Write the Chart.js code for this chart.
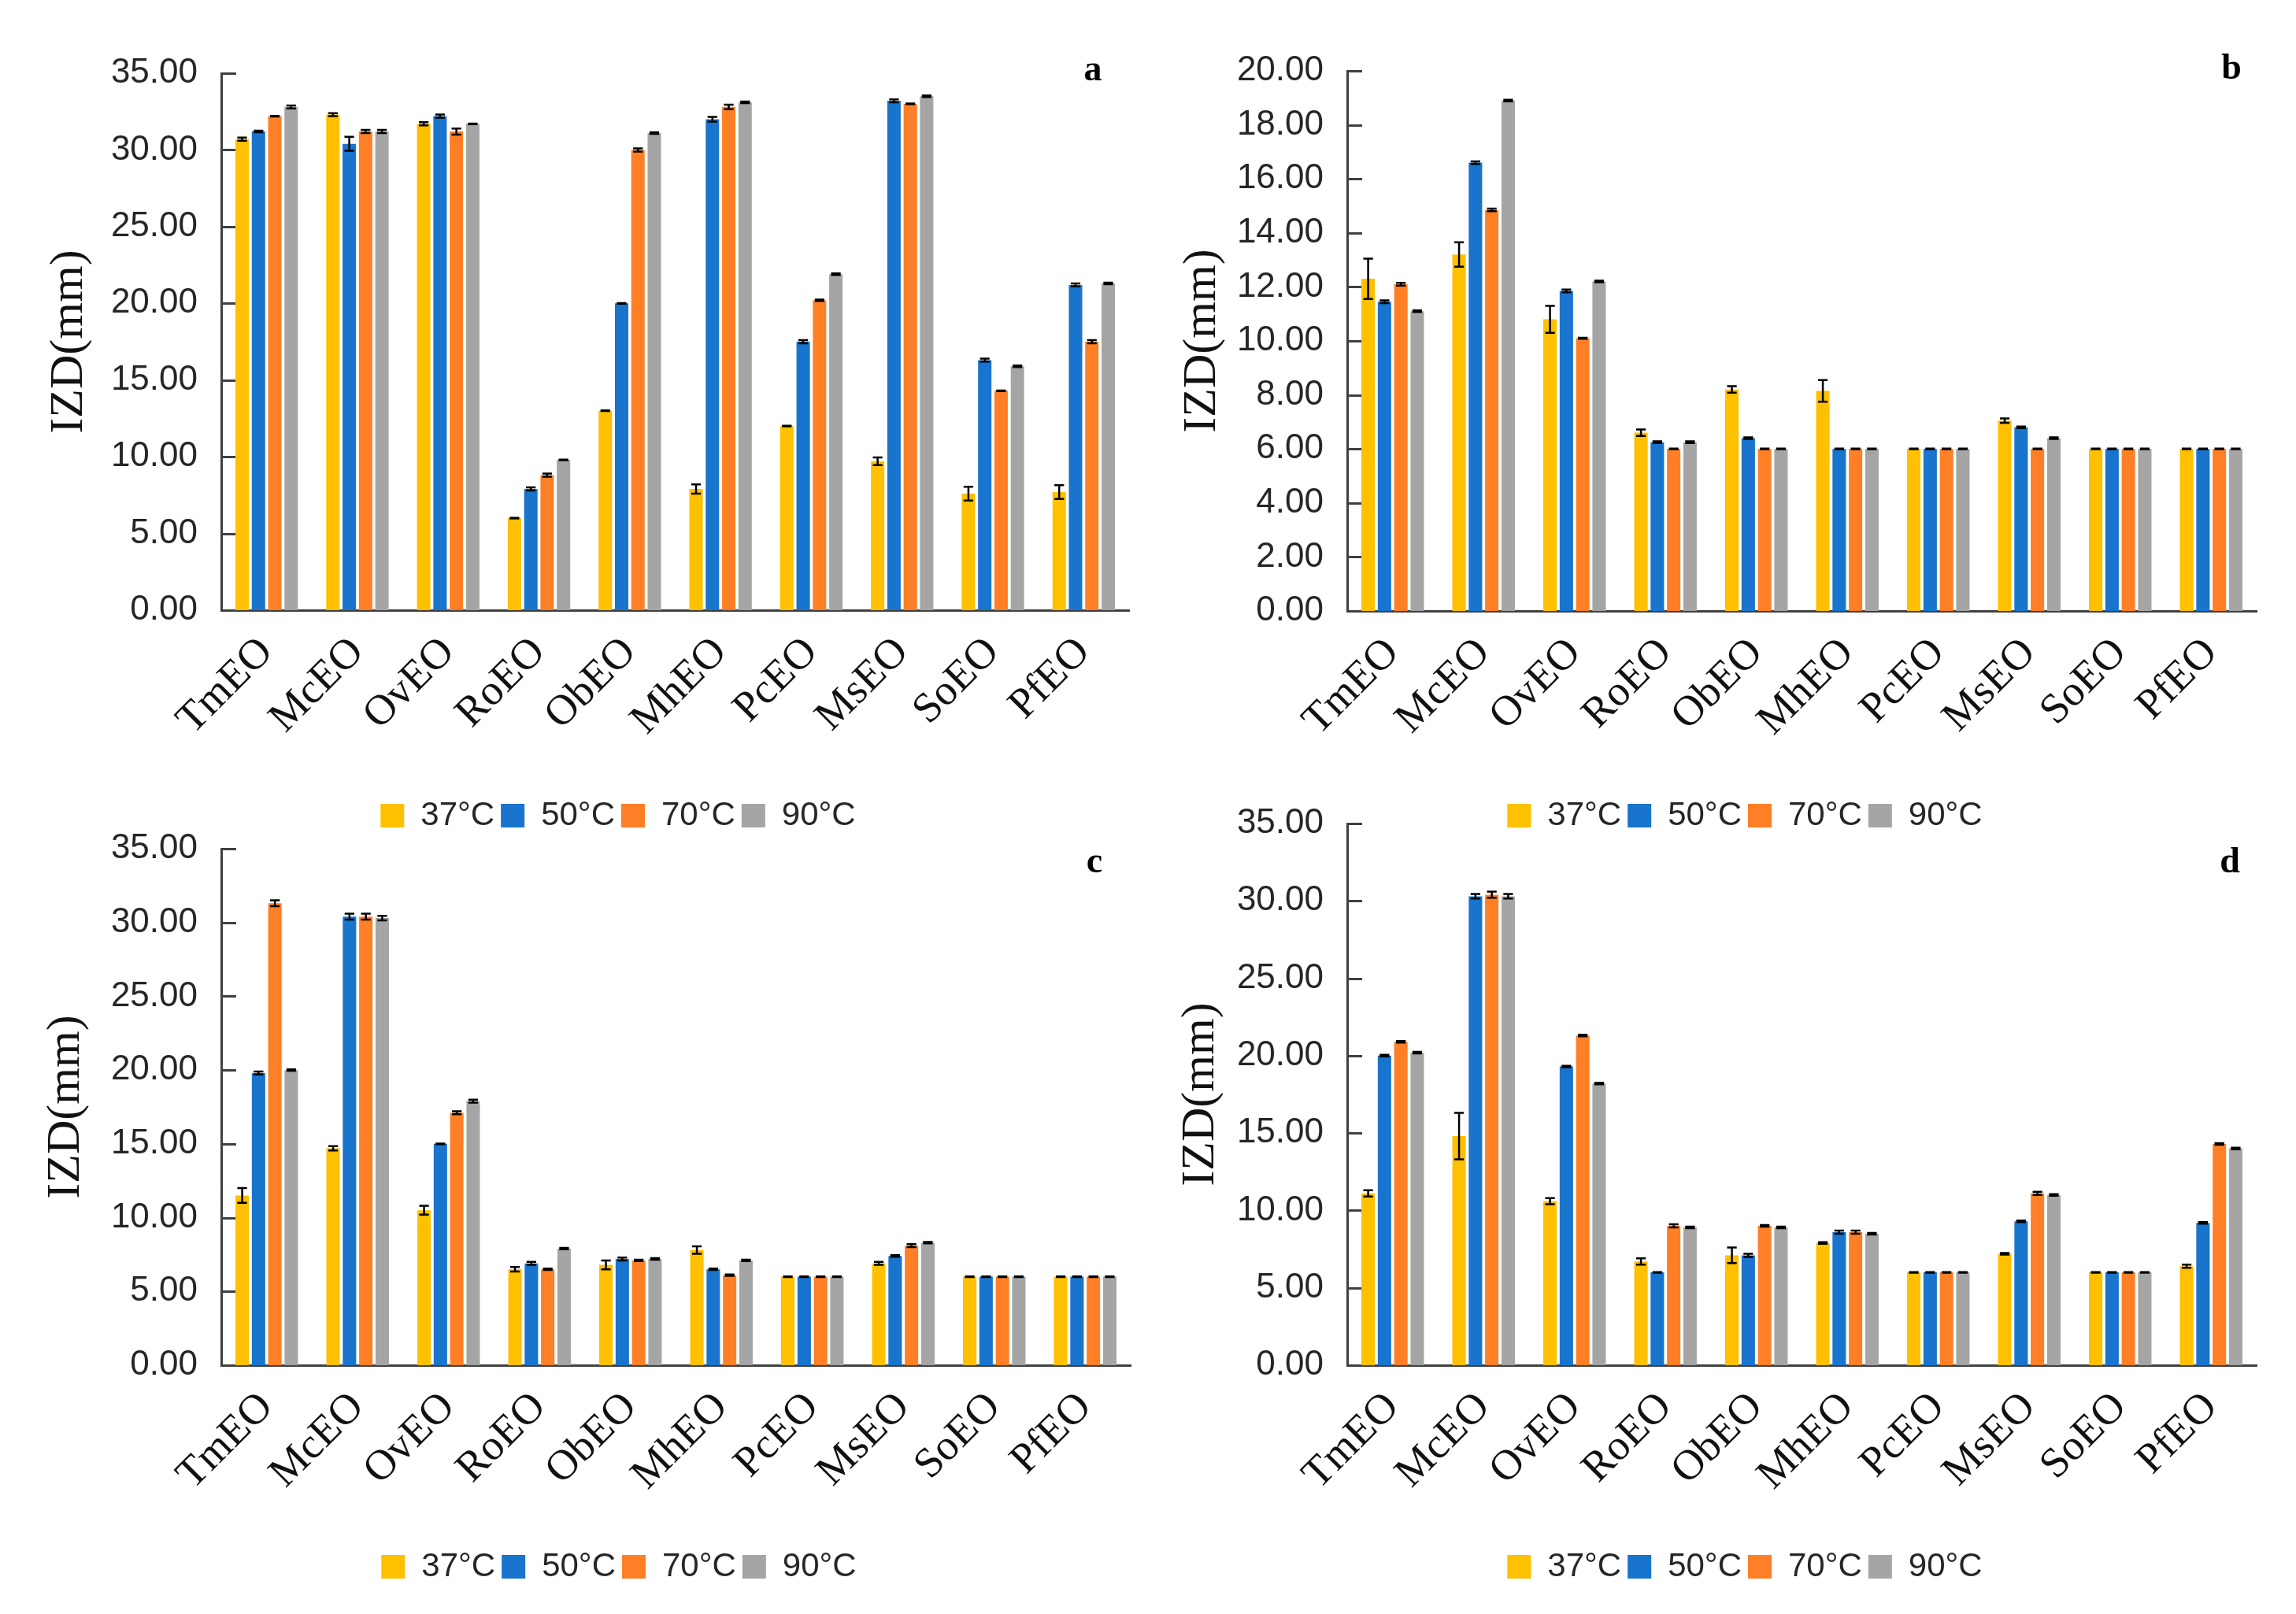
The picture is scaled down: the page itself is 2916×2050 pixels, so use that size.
<!DOCTYPE html>
<html>
<head>
<meta charset="utf-8">
<script src="https://cdn.jsdelivr.net/npm/chart.js@4.4.1/dist/chart.umd.min.js"></script>
<style>
    body { margin: 0; background: #fff; width: 2916px; height: 2050px; overflow: hidden; position: relative; }
    canvas { position: absolute; }
</style>
</head>
<body>
<canvas id="chartA" width="1458" height="1080" style="left:0px;top:0px"></canvas>
<canvas id="chartB" width="1458" height="1080" style="left:1458px;top:0px"></canvas>
<canvas id="chartC" width="1458" height="1050" style="left:0px;top:1000px"></canvas>
<canvas id="chartD" width="1458" height="1050" style="left:1458px;top:1000px"></canvas>
<script>
const categorias = ['TmEO', 'McEO', 'OvEO', 'RoEO', 'ObEO', 'MhEO', 'PcEO', 'MsEO', 'SoEO', 'PfEO'];
const temperaturas = ['37°C', '50°C', '70°C', '90°C'];
const cores = ['#FFC000', '#1874CD', '#FF7F27', '#A5A5A5'];

// painel a
const a37 = [30.7, 32.3, 31.7, 6.0, 13.0, 7.9, 12.0, 9.7, 7.6, 7.7];
const a50 = [31.2, 30.4, 32.2, 7.9, 20.0, 32.0, 17.5, 33.2, 16.3, 21.2];
const a70 = [32.2, 31.2, 31.2, 8.8, 30.0, 32.8, 20.2, 33.0, 14.3, 17.5];
const a90 = [32.8, 31.2, 31.7, 9.8, 31.1, 33.1, 21.9, 33.5, 15.9, 21.3];
const aErro37 = [0.1, 0.1, 0.1, 0.02, 0.02, 0.3, 0.02, 0.25, 0.45, 0.45];
const aErro50 = [0.05, 0.45, 0.1, 0.1, 0.02, 0.15, 0.1, 0.1, 0.1, 0.1];
const aErro70 = [0.02, 0.1, 0.2, 0.1, 0.1, 0.15, 0.05, 0.02, 0.02, 0.1];
const aErro90 = [0.1, 0.1, 0.02, 0.02, 0.05, 0.05, 0.05, 0.05, 0.05, 0.05];

// painel b
const b37 = [12.3, 13.2, 10.8, 6.6, 8.2, 8.15, 6.0, 7.05, 6.0, 6.0];
const b50 = [11.45, 16.6, 11.85, 6.25, 6.4, 6.0, 6.0, 6.8, 6.0, 6.0];
const b70 = [12.1, 14.85, 10.1, 6.0, 6.0, 6.0, 6.0, 6.0, 6.0, 6.0];
const b90 = [11.1, 18.9, 12.2, 6.25, 6.0, 6.0, 6.0, 6.4, 6.0, 6.0];
const bErro37 = [0.75, 0.45, 0.5, 0.12, 0.12, 0.4, 0.01, 0.08, 0.01, 0.01];
const bErro50 = [0.05, 0.05, 0.05, 0.03, 0.03, 0.01, 0.01, 0.03, 0.01, 0.01];
const bErro70 = [0.05, 0.05, 0.02, 0.01, 0.01, 0.01, 0.01, 0.01, 0.01, 0.01];
const bErro90 = [0.03, 0.03, 0.03, 0.03, 0.01, 0.01, 0.01, 0.03, 0.01, 0.01];

// painel c
const c37 = [11.5, 14.7, 10.5, 6.5, 6.8, 7.8, 6.0, 6.9, 6.0, 6.0];
const c50 = [19.8, 30.4, 15.0, 6.9, 7.2, 6.5, 6.0, 7.4, 6.0, 6.0];
const c70 = [31.3, 30.4, 17.1, 6.5, 7.1, 6.1, 6.0, 8.1, 6.0, 6.0];
const c90 = [20.0, 30.3, 17.9, 7.9, 7.2, 7.1, 6.0, 8.3, 6.0, 6.0];
const cErro37 = [0.5, 0.15, 0.3, 0.15, 0.3, 0.25, 0.02, 0.1, 0.02, 0.02];
const cErro50 = [0.1, 0.2, 0.02, 0.1, 0.1, 0.05, 0.02, 0.05, 0.02, 0.02];
const cErro70 = [0.2, 0.2, 0.1, 0.05, 0.05, 0.05, 0.02, 0.1, 0.02, 0.02];
const cErro90 = [0.05, 0.15, 0.1, 0.05, 0.05, 0.05, 0.02, 0.05, 0.02, 0.02];

// painel d
const d37 = [11.1, 14.8, 10.6, 6.7, 7.1, 7.9, 6.0, 7.2, 6.0, 6.4];
const d50 = [20.0, 30.3, 19.3, 6.0, 7.1, 8.6, 6.0, 9.3, 6.0, 9.2];
const d70 = [20.9, 30.4, 21.3, 9.0, 9.0, 8.6, 6.0, 11.1, 6.0, 14.3];
const d90 = [20.2, 30.3, 18.2, 8.9, 8.9, 8.5, 6.0, 11.0, 6.0, 14.0];
const dErro37 = [0.2, 1.5, 0.2, 0.2, 0.5, 0.05, 0.02, 0.05, 0.02, 0.1];
const dErro50 = [0.05, 0.15, 0.05, 0.02, 0.1, 0.1, 0.02, 0.05, 0.02, 0.05];
const dErro70 = [0.05, 0.2, 0.05, 0.1, 0.05, 0.1, 0.02, 0.1, 0.02, 0.05];
const dErro90 = [0.05, 0.15, 0.05, 0.05, 0.05, 0.05, 0.02, 0.05, 0.02, 0.05];

const FONTE_NUM = "'Liberation Sans', Arial, sans-serif";
const FONTE_SERIF = "'Liberation Serif', 'DejaVu Serif', serif";

// barras de erro desenhadas pela escala y
const barrasErro = {
    id: 'barrasErro',
    afterDatasetsDraw(chart) {
        const ctx = chart.ctx;
        const escalaY = chart.scales.y;
        ctx.save();
        ctx.strokeStyle = '#000';
        ctx.lineWidth = 2.5;
        chart.data.datasets.forEach((ds, i) => {
            chart.getDatasetMeta(i).data.forEach((barra, j) => {
                const v = ds.data[j];
                const e = ds.erro[j];
                const yTopo = escalaY.getPixelForValue(v + e);
                const yBase = escalaY.getPixelForValue(v - e);
                const meio = barra.width * 0.36;
                ctx.beginPath();
                ctx.moveTo(barra.x, yTopo);
                ctx.lineTo(barra.x, yBase);
                ctx.moveTo(barra.x - meio, yTopo);
                ctx.lineTo(barra.x + meio, yTopo);
                ctx.moveTo(barra.x - meio, yBase);
                ctx.lineTo(barra.x + meio, yBase);
                ctx.stroke();
            });
        });
        ctx.restore();
    }
};

// marcas do eixo y voltadas para dentro
const marcasInternas = {
    id: 'marcasInternas',
    beforeDatasetsDraw(chart) {
        const ctx = chart.ctx;
        const escalaY = chart.scales.y;
        ctx.save();
        ctx.strokeStyle = '#404040';
        ctx.lineWidth = 3;
        ctx.beginPath();
        escalaY.ticks.forEach(t => {
            const py = Math.round(escalaY.getPixelForValue(t.value)) + 0.5;
            ctx.moveTo(escalaY.right, py);
            ctx.lineTo(escalaY.right + 19, py);
        });
        ctx.stroke();
        ctx.restore();
    }
};

// letra do painel (a, b, c, d)
const letraPainel = {
    id: 'letraPainel',
    afterDraw(chart, args, opts) {
        const ctx = chart.ctx;
        ctx.save();
        ctx.font = 'bold 46px ' + FONTE_SERIF;
        ctx.fillStyle = '#000';
        ctx.textAlign = 'center';
        ctx.textBaseline = 'middle';
        ctx.fillText(opts.texto, opts.x, opts.y);
        ctx.restore();
    }
};

function criarGrafico(idCanvas, series, erros, cfg) {
    const datasets = temperaturas.map((t, i) => ({
        label: t,
        data: series[i],
        erro: erros[i],
        backgroundColor: cores[i],
        borderWidth: 0,
        categoryPercentage: 0.72,
        barPercentage: 0.82
    }));

    return new Chart(document.getElementById(idCanvas), {
        type: 'bar',
        data: { labels: categorias, datasets: datasets },
        options: {
            responsive: false,
            animation: false,
            devicePixelRatio: 1,
            layout: { padding: cfg.pad },
            scales: {
                x: {
                    grid: { display: false, drawTicks: false },
                    border: { color: '#404040', width: 3 },
                    ticks: {
                        autoSkip: false,
                        minRotation: 45,
                        maxRotation: 45,
                        padding: 22,
                        color: '#111',
                        font: { family: FONTE_SERIF, size: 54 }
                    },
                    afterFit: (s) => { s.height = cfg.alturaX; }
                },
                y: {
                    min: 0,
                    max: cfg.max,
                    grid: { display: false, drawTicks: true, tickLength: 22 },
                    border: { color: '#404040', width: 3 },
                    ticks: {
                        stepSize: cfg.passo,
                        padding: 8,
                        color: '#262626',
                        font: { family: FONTE_NUM, size: 44 },
                        callback: (value) => Number(value).toFixed(2)
                    },
                    title: {
                        display: true,
                        text: 'IZD(mm)',
                        color: '#111',
                        font: { family: FONTE_SERIF, size: 60 },
                        padding: { top: cfg.tituloPad, bottom: 0 }
                    },
                    afterFit: (s) => { s.width = 145; }
                }
            },
            plugins: {
                legend: {
                    position: 'bottom',
                    labels: {
                        boxWidth: 30,
                        boxHeight: 30,
                        padding: 8,
                        color: '#262626',
                        font: { family: FONTE_NUM, size: 42 }
                    }
                },
                tooltip: { enabled: false },
                letraPainel: cfg.letra
            }
        },
        plugins: [marcasInternas, barrasErro, letraPainel]
    });
}

criarGrafico('chartA', [a37, a50, a70, a90], [aErro37, aErro50, aErro70, aErro90], {
    max: 35, passo: 5,
    pad: { left: 136, top: 93, right: 24, bottom: 13 },
    alturaX: 232, tituloPad: -84,
    letra: { texto: 'a', x: 1388, y: 90 }
});

criarGrafico('chartB', [b37, b50, b70, b90], [bErro37, bErro50, bErro70, bErro90], {
    max: 20, passo: 2,
    pad: { left: 108, top: 90, right: 50, bottom: 13 },
    alturaX: 231, tituloPad: -75,
    letra: { texto: 'b', x: 1376, y: 88 }
});

criarGrafico('chartC', [c37, c50, c70, c90], [cErro37, cErro50, cErro70, cErro90], {
    max: 35, passo: 5,
    pad: { left: 136, top: 78, right: 22, bottom: 29 },
    alturaX: 227, tituloPad: -88,
    letra: { texto: 'c', x: 1390, y: 96 }
});

criarGrafico('chartD', [d37, d50, d70, d90], [dErro37, dErro50, dErro70, dErro90], {
    max: 35, passo: 5,
    pad: { left: 108, top: 46, right: 50, bottom: 29 },
    alturaX: 227, tituloPad: -77,
    letra: { texto: 'd', x: 1374, y: 96 }
});
</script>
</body>
</html>
